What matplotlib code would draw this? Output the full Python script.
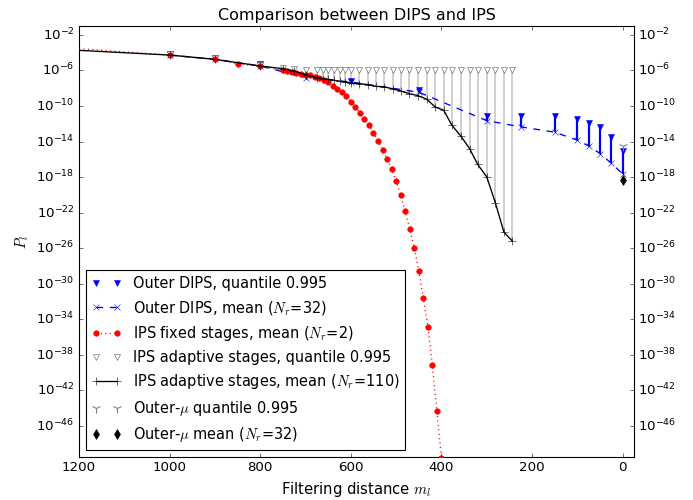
import numpy as np
import matplotlib
matplotlib.use("Agg")
import matplotlib.pyplot as plt
from matplotlib.ticker import FixedLocator, NullLocator, LogFormatterMathtext

plt.style.use('classic')

# ---------------- data (log10 of P_l) ----------------
# Outer DIPS
dips_m = [1000, 900, 800, 700, 600, 450, 300, 225, 150, 100, 75, 50, 25, 0]
dips_mean_log = [-4.27, -4.75, -5.5, -6.8, -7.3, -8.45, -11.65, -12.35, -12.95,
                 -13.85, -14.5, -15.35, -16.45, -17.65]
dips_q_log = [-4.1, -4.6, -5.3, -6.65, -7.15, -8.15, -11.15, -11.15, -11.15,
              -11.45, -11.95, -12.4, -13.45, -15.1]

# IPS fixed stages
ips_fixed_m = [1200, 1000, 900, 850, 800, 750, 740, 730, 720, 710, 700, 690, 680,
               670, 660, 650, 640, 630, 620, 610, 600, 590, 580, 570, 560, 550,
               540, 530, 520, 510, 500, 490, 480, 470, 460, 450, 440, 430, 420,
               410, 400]
ips_fixed_log = [-3.55, -4.27, -4.75, -5.26, -5.5, -5.99, -6.1, -6.2, -6.3, -6.38,
                 -6.47, -6.56, -6.7, -6.89, -7.11, -7.34, -7.71, -8.04, -8.43,
                 -8.88, -9.51, -10.15, -10.75, -11.42, -12.17, -13.03, -13.97,
                 -14.9, -15.96, -17.08, -18.46, -20.07, -21.83, -23.82, -25.96,
                 -28.57, -31.61, -34.83, -39.17, -44.34, -49.6]

# IPS adaptive stages
ips_ad_m = [1200, 1000, 900, 800, 750, 725, 700, 675, 662, 650, 637, 625, 612,
            600, 581, 563, 544, 526, 508, 489, 471, 451, 432, 414, 395, 377,
            357, 338, 320, 300, 281, 262, 244]
ips_ad_mean_log = [-3.74, -4.27, -4.75, -5.5, -5.8, -6.07, -6.5, -6.81, -6.92,
                   -7.0, -7.11, -7.22, -7.3, -7.42, -7.48, -7.6, -7.79, -7.85,
                   -8.07, -8.33, -8.61, -8.85, -9.25, -10.11, -10.48, -12.17,
                   -13.4, -14.79, -16.58, -17.98, -20.9, -24.22, -25.17]
ips_ad_q_m = ips_ad_m[1:]
ips_ad_q_log = [-4.1, -4.6, -5.35, -5.73, -5.8, -5.99, -5.99, -5.99, -5.99,
                -5.99, -5.99, -5.99, -5.99, -5.99, -5.99, -5.99, -5.99, -5.99,
                -5.99, -5.99, -5.99, -5.99, -5.99, -5.99, -5.99, -5.99, -5.99,
                -5.99, -5.99, -5.99, -5.99, -5.99]

# Outer-mu
mu_m = [0]
mu_q_log = [-14.55]
mu_mean_log = [-18.35]

ytick_exps = [-2, -6, -10, -14, -18, -22, -26, -30, -34, -38, -42, -46]
xticks = [1200, 1000, 800, 600, 400, 200, 0]

# ---------------- plot ----------------
def p(v):
    return 10.0 ** np.asarray(v, dtype=float)

fig = plt.figure(figsize=(693 / 80.0, 500 / 80.0), dpi=80, facecolor='white')
ax = fig.add_axes([79 / 693.0, 43 / 500.0, 555 / 693.0, 431 / 500.0])

# vertical spans mean -> quantile
ax.vlines(ips_ad_q_m, p(ips_ad_mean_log[1:]), p(ips_ad_q_log), color='0.78',
          lw=1.5, zorder=1)
ax.vlines(dips_m, p(dips_mean_log), p(dips_q_log), color='b', lw=2, zorder=2)

ax.plot(dips_m, p(dips_q_log), 'v', color='b', mec='b', ms=6,
        label='Outer DIPS, quantile 0.995', zorder=3)
ax.plot(dips_m, p(dips_mean_log), 'x--', color='b', mec='b', ms=6, lw=1.2,
        label='Outer DIPS, mean ($N_r$=32)', zorder=3)
ax.plot(ips_fixed_m, p(ips_fixed_log), 'o:', color='r', mec='r', ms=5, lw=1.2,
        markevery=slice(1, None),
        label='IPS fixed stages, mean ($N_r$=2)', zorder=4)
ax.plot(ips_ad_q_m, p(ips_ad_q_log), 'v', mfc='white', mec='0.35', ms=5,
        label='IPS adaptive stages, quantile 0.995', zorder=3)
ax.plot(ips_ad_m, p(ips_ad_mean_log), '+-', color='k', mec='k', ms=7, lw=1.2,
        label='IPS adaptive stages, mean ($N_r$=110)', zorder=5)
ax.plot(mu_m, p(mu_q_log), '1', color='0.5', mec='0.5', ms=9, mew=1,
        label='Outer-$\\mu$ quantile 0.995', zorder=5)
ax.plot(mu_m, p(mu_mean_log), 'd', color='k', mec='k', ms=6,
        label='Outer-$\\mu$ mean ($N_r$=32)', zorder=5)

ax.set_yscale('log')
ax.set_ylim(10 ** -49.5, 10 ** -1.0)
ax.set_xlim(1200, -25)
ax.xaxis.set_major_locator(FixedLocator(xticks))
ax.yaxis.set_major_locator(FixedLocator([10.0 ** e for e in ytick_exps]))
ax.yaxis.set_minor_locator(NullLocator())
ax.yaxis.set_major_formatter(LogFormatterMathtext())
ax.tick_params(axis='y', labelright=True, which='both')

ax.set_title('Comparison between DIPS and IPS', fontsize=14.4)
ax.set_xlabel('Filtering distance $m_l$', fontsize=13.3)
ax.set_ylabel('$P_l$', fontsize=13.3)

leg = ax.legend(loc='lower left', numpoints=2, fontsize=13.1)

fig.savefig('out.png', dpi=80, facecolor='white')
